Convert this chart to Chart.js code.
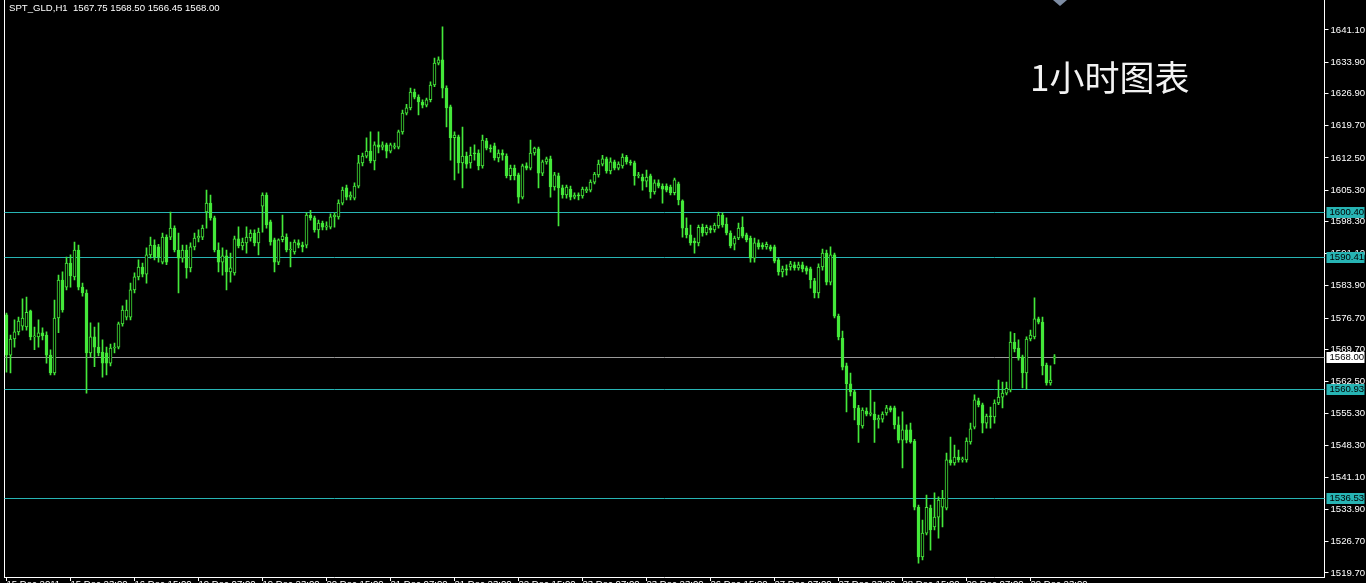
<!DOCTYPE html>
<html><head><meta charset="utf-8">
<script src="https://cdn.jsdelivr.net/npm/chart.js@4.4.0/dist/chart.umd.min.js"></script>
<style>
html,body{margin:0;padding:0;background:#000;overflow:hidden;width:1366px;height:583px;}
#wrap{position:absolute;left:0;top:0;width:1366px;height:600px;}
</style></head><body>
<div id="wrap"><canvas id="c" width="1366" height="600"></canvas></div>
<script>
const symbolTitle = 'SPT_GLD,H1  1567.75 1568.50 1566.45 1568.00';
const chartNote = '1小时图表';

const openP = [
1577.4,1568.4,1572.0,1573.6,1574.9,1574.7,1578.3,1572.5,1572.5,1573.4,
1572.9,1568.4,1564.4,1576.7,1585.2,1583.6,1589.0,1585.9,1591.9,1583.6,
1582.3,1568.9,1572.5,1570.2,1569.1,1568.9,1566.6,1570.0,1570.2,1575.4,
1576.9,1576.9,1583.0,1585.9,1588.1,1586.5,1590.8,1593.0,1592.6,1589.2,
1594.8,1594.8,1596.8,1591.9,1590.1,1591.9,1587.9,1592.6,1594.6,1594.8,
1600.4,1602.4,1599.1,1591.9,1589.2,1590.6,1587.0,1586.8,1594.4,1592.8,
1593.5,1594.6,1595.7,1593.5,1601.7,1604.2,1598.2,1594.2,1589.2,1594.2,
1594.8,1591.9,1591.5,1593.5,1593.0,1593.0,1599.7,1599.1,1596.4,1597.9,
1597.0,1597.0,1599.3,1599.3,1602.4,1605.8,1603.7,1603.5,1606.2,1611.4,
1612.9,1614.0,1611.8,1615.4,1614.9,1615.4,1614.0,1614.9,1614.9,1618.3,
1622.5,1623.7,1627.2,1626.1,1625.0,1624.3,1625.5,1628.8,1633.7,1634.4,
1628.1,1623.9,1617.0,1617.2,1611.4,1612.9,1611.4,1613.6,1613.6,1610.7,
1616.3,1614.7,1615.2,1612.5,1613.6,1612.9,1608.5,1610.2,1608.7,1603.7,
1610.7,1610.2,1613.6,1614.5,1609.1,1611.6,1612.3,1606.0,1608.5,1605.8,
1604.2,1605.5,1603.7,1604.2,1604.0,1605.1,1605.3,1607.1,1608.7,1611.1,
1612.3,1609.6,1611.6,1610.2,1610.7,1612.7,1611.6,1611.4,1608.5,1608.2,
1607.3,1608.5,1604.9,1606.9,1606.2,1606.2,1606.0,1604.7,1606.7,1602.9,
1596.8,1595.3,1593.9,1593.5,1597.0,1595.7,1596.8,1596.4,1597.3,1599.7,
1597.7,1595.7,1593.2,1594.6,1597.0,1595.3,1594.6,1590.1,1593.5,1593.0,
1592.6,1592.6,1592.6,1589.7,1587.0,1587.7,1588.1,1588.6,1587.9,1588.6,
1587.9,1587.7,1585.0,1582.3,1588.1,1591.2,1584.7,1590.8,1577.1,1572.2,
1566.0,1562.0,1560.2,1556.6,1552.6,1555.9,1555.2,1555.2,1553.9,1554.1,
1555.5,1556.6,1556.6,1552.8,1549.4,1551.7,1551.7,1549.2,1534.4,1523.3,
1528.6,1534.2,1530.0,1532.2,1534.4,1534.2,1545.0,1544.3,1545.6,1545.0,
1545.0,1549.0,1552.3,1558.2,1557.3,1553.2,1554.8,1554.6,1557.7,1559.0,
1559.9,1560.6,1571.3,1570.0,1568.0,1564.4,1572.0,1572.5,1576.5,1575.8,
1566.2,1562.2,1567.75];

const highP = [
1577.8,1572.9,1576.3,1576.9,1581.0,1581.4,1578.5,1574.7,1576.3,1574.5,
1573.6,1569.6,1580.7,1586.3,1587.0,1590.3,1590.8,1593.7,1593.0,1584.5,
1583.0,1575.6,1574.7,1575.6,1571.8,1570.2,1570.9,1571.1,1575.8,1579.4,
1580.7,1584.5,1586.8,1589.7,1589.0,1592.4,1594.8,1594.2,1593.2,1595.7,
1595.3,1600.4,1597.3,1595.7,1593.0,1593.0,1593.5,1595.7,1596.4,1597.5,
1605.3,1604.2,1599.5,1593.5,1592.4,1591.9,1591.2,1595.0,1597.1,1594.6,
1597.1,1596.4,1596.4,1596.8,1604.7,1604.7,1598.6,1594.6,1594.4,1599.7,
1595.5,1593.7,1594.2,1594.2,1593.7,1600.2,1600.8,1599.5,1598.6,1598.4,
1598.2,1600.0,1600.2,1603.1,1606.0,1606.4,1604.9,1606.9,1613.1,1613.6,
1617.0,1618.3,1616.1,1618.3,1616.1,1615.8,1615.8,1615.8,1618.7,1623.2,
1624.5,1628.1,1627.9,1626.6,1625.5,1625.9,1629.5,1634.8,1635.1,1641.8,
1628.6,1624.3,1618.3,1617.6,1619.4,1613.8,1614.9,1615.4,1614.3,1617.6,
1616.9,1615.4,1615.8,1614.3,1614.3,1613.4,1610.9,1610.9,1609.1,1611.1,
1611.4,1616.5,1614.9,1614.9,1612.0,1612.7,1612.9,1609.3,1609.1,1606.4,
1606.4,1606.2,1604.7,1604.7,1606.0,1606.0,1607.6,1609.3,1612.0,1613.1,
1612.7,1612.5,1612.0,1611.6,1613.4,1613.1,1612.0,1611.8,1609.3,1608.9,
1609.8,1608.9,1607.6,1607.6,1606.7,1606.7,1606.4,1608.0,1607.1,1603.1,
1599.1,1597.5,1594.6,1597.5,1597.7,1597.5,1597.3,1597.9,1600.4,1600.2,
1599.1,1596.2,1595.0,1597.9,1599.3,1595.7,1595.0,1594.6,1594.2,1593.5,
1593.7,1593.0,1593.0,1590.1,1588.3,1588.6,1589.4,1589.2,1589.2,1589.2,
1588.3,1588.1,1585.6,1588.8,1592.1,1591.9,1592.6,1591.2,1577.6,1573.8,
1566.6,1564.4,1560.6,1557.2,1556.6,1556.6,1560.6,1557.9,1555.0,1555.7,
1557.2,1557.0,1557.0,1554.6,1555.7,1552.8,1553.2,1549.6,1534.9,1531.5,
1537.1,1534.9,1537.6,1536.7,1538.2,1546.5,1550.1,1548.3,1547.2,1545.6,
1549.9,1553.2,1559.5,1558.8,1557.7,1555.2,1556.8,1558.4,1562.8,1562.4,
1562.4,1573.6,1573.3,1571.8,1568.4,1572.5,1574.0,1581.2,1576.9,1576.9,
1566.6,1566.0,1568.5];

const lowP = [
1564.6,1564.4,1570.2,1572.9,1574.0,1574.0,1571.8,1569.6,1570.2,1571.8,
1566.6,1564.0,1564.0,1573.4,1578.0,1583.0,1583.6,1585.2,1583.0,1581.6,
1559.9,1568.0,1565.8,1568.2,1563.5,1564.0,1566.0,1568.9,1569.8,1574.9,
1576.3,1576.3,1582.3,1585.2,1585.9,1584.5,1590.1,1589.7,1589.2,1588.8,
1588.6,1594.2,1591.5,1582.3,1589.2,1585.6,1587.0,1591.9,1593.7,1594.2,
1596.8,1598.6,1591.5,1587.0,1586.3,1583.0,1584.7,1586.3,1592.4,1591.9,
1591.2,1593.9,1592.8,1590.8,1595.9,1596.8,1593.0,1587.0,1588.6,1593.7,
1591.5,1588.1,1591.0,1592.4,1591.5,1592.4,1598.6,1595.9,1594.6,1596.4,
1596.4,1596.6,1597.0,1598.8,1602.0,1603.1,1603.1,1603.1,1605.8,1610.7,
1612.5,1611.4,1609.8,1613.6,1614.3,1612.5,1613.6,1614.5,1614.5,1617.8,
1622.1,1623.2,1625.7,1622.1,1623.7,1623.9,1625.0,1628.4,1633.3,1625.9,
1619.4,1612.0,1607.6,1609.1,1605.8,1610.2,1610.2,1612.0,1609.8,1610.2,
1614.3,1613.8,1612.0,1611.6,1612.0,1608.0,1607.6,1607.6,1602.4,1603.3,
1609.8,1609.8,1613.1,1605.8,1608.5,1611.1,1603.7,1605.3,1597.3,1603.5,
1603.5,1603.1,1603.3,1603.1,1603.5,1604.7,1604.9,1606.7,1608.2,1610.7,
1609.1,1608.9,1609.8,1609.8,1610.2,1611.1,1610.9,1606.4,1608.0,1605.3,
1606.0,1603.5,1604.4,1605.8,1602.4,1604.9,1604.2,1604.2,1602.0,1594.8,
1594.6,1593.0,1591.2,1592.8,1595.0,1595.3,1595.7,1595.9,1596.8,1597.0,
1595.3,1592.4,1591.9,1594.2,1594.6,1593.7,1589.2,1589.2,1592.1,1592.1,
1592.1,1591.7,1589.0,1586.3,1585.9,1586.3,1587.4,1587.4,1587.4,1587.0,
1586.5,1583.4,1581.2,1581.2,1587.4,1584.1,1584.1,1576.7,1571.8,1565.1,
1555.7,1559.3,1553.9,1548.9,1552.1,1554.8,1554.8,1548.9,1552.1,1553.4,
1555.0,1555.7,1551.9,1548.8,1543.2,1548.8,1548.7,1533.8,1521.9,1522.6,
1528.2,1524.8,1529.3,1527.5,1530.0,1533.8,1543.8,1543.8,1544.5,1544.5,
1544.5,1548.5,1551.9,1556.8,1551.0,1552.1,1552.1,1553.2,1557.3,1556.6,
1559.5,1560.2,1569.1,1567.3,1561.1,1560.8,1571.6,1572.0,1575.4,1564.0,
1561.7,1561.7,1566.45];

const closeP = [
1568.4,1572.0,1573.6,1576.0,1576.7,1578.0,1572.5,1572.7,1573.4,1572.7,
1568.4,1564.4,1576.7,1585.2,1578.5,1589.0,1586.1,1591.9,1583.6,1582.3,
1568.9,1572.5,1570.2,1568.9,1566.6,1566.6,1570.0,1570.2,1575.4,1578.5,
1578.5,1583.0,1585.9,1588.1,1586.5,1590.8,1593.0,1590.3,1590.3,1594.8,
1589.2,1596.8,1591.9,1590.1,1591.9,1587.9,1592.6,1594.6,1595.0,1596.8,
1602.4,1599.1,1591.9,1589.2,1590.6,1587.0,1587.9,1594.4,1592.8,1593.7,
1594.8,1595.7,1593.5,1595.9,1604.2,1597.5,1593.7,1589.2,1594.2,1595.0,
1591.9,1592.1,1593.7,1593.0,1592.6,1599.7,1599.1,1596.4,1597.9,1597.0,
1597.3,1599.3,1599.7,1602.4,1605.3,1603.7,1604.2,1606.2,1611.4,1612.9,
1614.0,1611.8,1615.4,1614.9,1615.4,1614.0,1615.4,1615.2,1618.3,1622.5,
1623.7,1627.2,1626.1,1625.0,1624.3,1625.5,1628.8,1633.7,1634.4,1628.1,
1623.7,1617.0,1617.6,1611.4,1612.9,1611.1,1613.1,1613.4,1610.7,1616.5,
1614.7,1614.5,1612.5,1613.6,1613.1,1608.5,1610.2,1608.5,1603.7,1610.7,
1610.2,1613.6,1614.7,1609.1,1611.6,1612.3,1606.0,1608.7,1605.8,1604.2,
1606.0,1603.7,1604.2,1604.0,1605.5,1605.5,1607.1,1608.9,1611.1,1612.3,
1609.6,1611.6,1610.2,1611.1,1612.7,1611.6,1611.4,1608.5,1608.7,1607.3,
1608.2,1604.9,1606.9,1606.2,1605.5,1605.3,1604.7,1607.6,1603.1,1596.8,
1595.3,1593.5,1593.5,1597.0,1595.7,1597.0,1596.4,1597.5,1599.7,1597.5,
1595.7,1592.8,1594.6,1596.8,1595.0,1594.2,1590.1,1593.5,1592.6,1592.6,
1593.2,1592.1,1589.4,1587.0,1587.7,1587.4,1588.8,1587.9,1588.6,1587.7,
1587.2,1585.2,1582.3,1588.1,1591.2,1584.7,1590.8,1577.1,1572.5,1565.7,
1562.0,1560.2,1556.6,1552.8,1556.1,1555.2,1555.5,1553.9,1554.3,1555.2,
1556.6,1556.1,1552.8,1549.4,1551.7,1549.4,1549.0,1534.4,1523.3,1528.6,
1534.4,1529.3,1532.2,1536.0,1536.4,1545.0,1544.3,1545.6,1545.0,1545.2,
1549.2,1551.9,1558.4,1557.3,1553.2,1554.8,1554.6,1557.7,1559.0,1559.9,
1561.0,1571.3,1569.8,1567.7,1564.4,1572.0,1572.9,1576.5,1575.8,1566.0,
1562.2,1562.8,1568.0];

// one x-axis label every 16 hourly bars
const timeTickLabels = ['15 Dec 2011','15 Dec 23:00','16 Dec 15:00','19 Dec 07:00','19 Dec 23:00',
 '20 Dec 15:00','21 Dec 07:00','21 Dec 23:00','22 Dec 15:00','23 Dec 07:00','23 Dec 23:00',
 '26 Dec 15:00','27 Dec 07:00','27 Dec 23:00','28 Dec 15:00','29 Dec 07:00','29 Dec 23:00'];
const barsPerTick = 16;
const totalSlots = 330; // bars + empty right margin

const priceTickLabels = ['1641.10','1633.90','1626.90','1619.70','1612.50','1605.30','1598.30','1591.10',
 '1583.90','1576.70','1569.70','1562.50','1555.30','1548.30','1541.10','1533.90','1526.70','1519.70'];
const levelLines = [1600.40, 1590.41, 1560.93, 1536.53];
const bidPrice = 1568.00;
const priceMin = 1518.8, priceMax = 1647.8;

const GREEN = '#44e83a';
const CYAN = '#27b4b4';

const labels = [];
for (let i = 0; i < totalSlots; i++) {
  labels.push(i % barsPerTick === 0 && i / barsPerTick < timeTickLabels.length ? timeTickLabels[i / barsPerTick] : '');
}
const wickData = highP.map((h, i) => [lowP[i], h]);
const bodyData = openP.map((o, i) => [o, closeP[i]]);
const bodyFill = openP.map((o, i) => closeP[i] >= o ? '#000000' : GREEN);

const FONT = {family: '"Liberation Sans", Arial, sans-serif', size: 9.6};

const overlay = {
  id: 'overlay',
  beforeDatasetsDraw(chart) {
    const {ctx, chartArea: a, scales: {y}} = chart;
    ctx.save();
    ctx.lineWidth = 1;
    levelLines.forEach(v => {
      const py = Math.round(y.getPixelForValue(v)) + 0.5;
      ctx.strokeStyle = CYAN;
      ctx.beginPath(); ctx.moveTo(a.left, py); ctx.lineTo(a.right, py); ctx.stroke();
    });
    const by = Math.round(y.getPixelForValue(bidPrice)) + 0.5;
    ctx.strokeStyle = '#9a9a9a';
    ctx.beginPath(); ctx.moveTo(a.left, by); ctx.lineTo(a.right, by); ctx.stroke();
    ctx.restore();
  },
  afterDraw(chart) {
    const {ctx, chartArea: a, scales: {y}} = chart;
    ctx.save();
    ctx.font = '9.6px "Liberation Sans", Arial, sans-serif';
    ctx.textBaseline = 'middle';
    const box = (v, bg) => {
      const py = Math.round(y.getPixelForValue(v));
      ctx.fillStyle = bg;
      ctx.fillRect(a.right + 2, py - 5, 38, 11);
      ctx.fillStyle = '#000';
      ctx.textAlign = 'left';
      ctx.fillText(v.toFixed(2), a.right + 5, py + 0.5);
    };
    levelLines.forEach(v => box(v, CYAN));
    box(bidPrice, '#ffffff');
    // title
    ctx.fillStyle = '#ffffff';
    ctx.fillText(symbolTitle, 9, 8);
    // note
    ctx.font = '35px "Noto Sans CJK SC", sans-serif';
    ctx.fillStyle = '#f2f2f2';
    ctx.fillText(chartNote, 1030, 78);
    // shift marker
    ctx.fillStyle = '#7d8ca3';
    ctx.beginPath(); ctx.moveTo(1053, 0); ctx.lineTo(1067, 0); ctx.lineTo(1060, 6); ctx.closePath(); ctx.fill();
    ctx.restore();
  }
};

new Chart(document.getElementById('c'), {
  type: 'bar',
  data: {
    labels: labels,
    datasets: [
      {data: bodyData, backgroundColor: bodyFill, borderColor: GREEN, borderWidth: 1, borderSkipped: false,
       barThickness: 3, grouped: false, order: 0, minBarLength: 1, yAxisID: 'y'},
      {data: wickData, backgroundColor: GREEN, borderWidth: 0, barThickness: 1, grouped: false, order: 1, yAxisID: 'y'}
    ]
  },
  options: {
    responsive: false, animation: false, devicePixelRatio: 1,
    layout: {padding: 0},
    plugins: {legend: {display: false}, tooltip: {enabled: false}, title: {display: false}},
    scales: {
      x: {
        type: 'category', offset: true,
        grid: {display: true, drawOnChartArea: false, offset: false, color: '#ffffff', tickLength: 4},
        border: {display: true, color: '#ffffff'},
        ticks: {color: '#ffffff', font: FONT, autoSkip: false, maxRotation: 0, align: 'start', padding: -2},
        afterBuildTicks: s => { s.ticks = s.ticks.filter(t => labels[t.value] !== ''); },
        afterFit: s => { s.height = 23; s.paddingLeft = 0; s.paddingRight = 0; }
      },
      y: {
        position: 'right', min: priceMin, max: priceMax,
        grid: {display: true, drawOnChartArea: false, color: '#ffffff', tickLength: 4},
        border: {display: true, color: '#ffffff'},
        ticks: {color: '#ffffff', font: FONT, padding: 2, callback: v => Number(v).toFixed(2)},
        afterBuildTicks: s => { s.ticks = priceTickLabels.map(t => ({value: parseFloat(t)})); },
        afterFit: s => { s.width = 41.5; s.paddingTop = 0; s.paddingBottom = 0; }
      },
      yl: {
        position: 'left', display: true,
        grid: {display: false}, ticks: {display: false},
        border: {display: true, color: '#ffffff'},
        afterFit: s => { s.width = 4.5; s.paddingTop = 0; s.paddingBottom = 0; }
      }
    }
  },
  plugins: [overlay]
});
</script>
</body></html>
